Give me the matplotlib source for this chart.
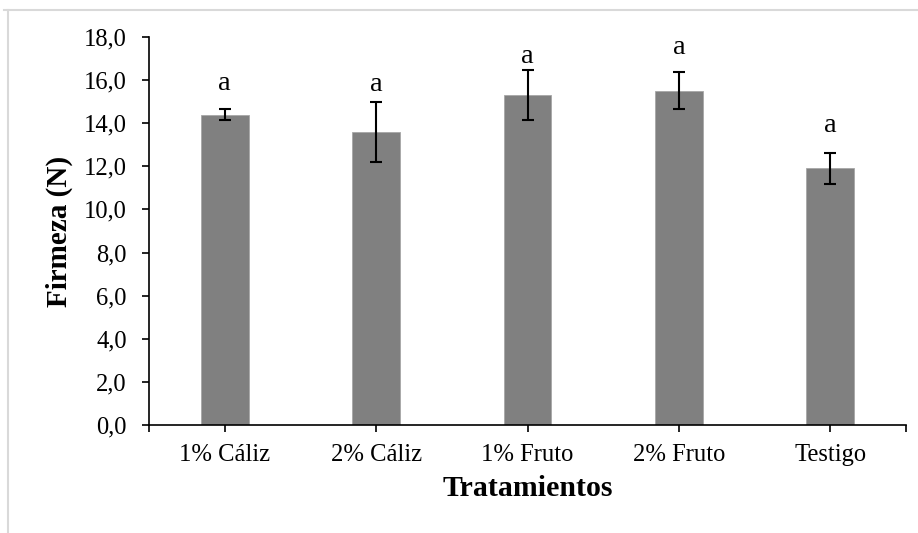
import matplotlib
matplotlib.use("Agg")
import matplotlib.pyplot as plt
from matplotlib.lines import Line2D

categories = ["1% Cáliz", "2% Cáliz", "1% Fruto", "2% Fruto", "Testigo"]
values = [14.4, 13.6, 15.3, 15.5, 11.9]
errors = [0.25, 1.4, 1.15, 0.86, 0.7]
letters = ["a", "a", "a", "a", "a"]
letter_y = [15.85, 15.8, 17.1, 17.5, 13.9]
yticks = [0, 2, 4, 6, 8, 10, 12, 14, 16, 18]

plt.rcParams['font.family'] = ['Liberation Serif', 'DejaVu Serif']

fig = plt.figure(figsize=(9.18, 5.33), dpi=100)
ax = fig.add_axes([149/918, 1-425/533, 757/918, 388/533])

x = list(range(len(categories)))
ax.bar(x, values, width=0.317, color="#808080", edgecolor="#a6a6a6", linewidth=0.6, zorder=2)
ax.errorbar(x, values, yerr=errors, fmt='none', ecolor='black', elinewidth=1.5,
            capsize=4.5, capthick=1.5, zorder=3)
for xi, ly, t in zip(x, letter_y, letters):
    ax.text(xi, ly, t, ha='center', va='center', fontsize=20.5)

ax.set_xlim(-0.5, len(categories) - 0.5)
ax.set_ylim(0, 18)
ax.set_yticks(yticks)
ax.set_yticklabels([f"{v:.1f}".replace('.', ',') for v in yticks])
ax.set_xticks(x)
ax.set_xticklabels(categories)
ax.set_xticks([-0.5, len(categories) - 0.5], minor=True)
ax.tick_params(axis='both', which='major', labelsize=17.7, direction='out', width=1.2, color='black')
ax.tick_params(axis='y', length=5, pad=11)
ax.tick_params(axis='x', which='major', length=5, pad=9)
ax.tick_params(axis='x', which='minor', length=5, width=1.2)

for s in ['top', 'right']:
    ax.spines[s].set_visible(False)
for s in ['left', 'bottom']:
    ax.spines[s].set_linewidth(1.2)
    ax.spines[s].set_color('black')

ax.set_xlabel("Tratamientos", fontsize=21.5, fontweight='bold', labelpad=6)
ax.set_ylabel("Firmeza (N)", fontsize=21, fontweight='bold', labelpad=8)

# light gray frame of the chart area
fig.add_artist(Line2D([4/918, 917/918], [1-9.5/533, 1-9.5/533], transform=fig.transFigure,
                      color="#d9d9d9", linewidth=1.5))
fig.add_artist(Line2D([7.5/918, 7.5/918], [1-9.5/533, 0], transform=fig.transFigure,
                      color="#d9d9d9", linewidth=1.5))

fig.savefig("out.png", dpi=100)
